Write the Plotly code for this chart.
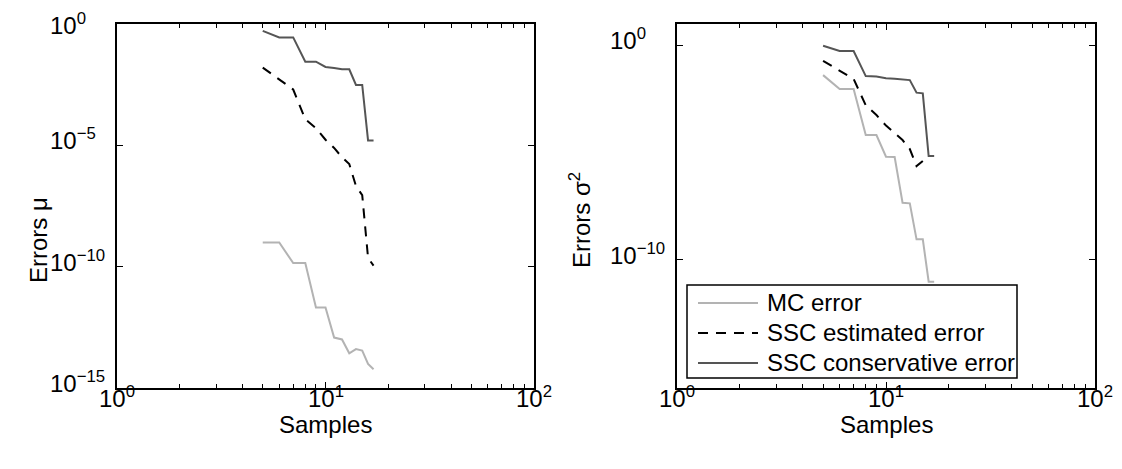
import math
import plotly.graph_objects as go
from plotly.subplots import make_subplots

samples = [5, 6, 7, 8, 9, 10, 11, 12, 13, 14, 15, 16, 17]

# Left panel: errors in mu
mu_mc = [1.0e-9, 1.0e-9, 1.4e-10, 1.4e-10, 2.1e-12, 2.1e-12, 1.2e-13, 1.0e-13,
         2.7e-14, 4.0e-14, 3.5e-14, 9.8e-15, 5.9e-15]
mu_est = [1.6e-2, 5.1e-3, 2.0e-3, 1.2e-4, 5.1e-5, 1.7e-5, 7.8e-6, 3.2e-6,
          1.7e-6, 2.1e-7, 8.9e-8, 2.3e-10, 1.1e-10]
mu_cons = [0.52, 0.28, 0.28, 0.028, 0.028, 0.017, 0.0155, 0.0136, 0.0136,
           0.0031, 0.0031, 1.6e-5, 1.6e-5]

# Right panel: errors in sigma^2
var_mc = [0.041, 9.2e-3, 9.2e-3, 6.5e-5, 6.5e-5, 6.3e-6, 6.1e-6, 4.5e-8,
          4.2e-8, 8.8e-10, 8.8e-10, 9.2e-12, 9.2e-12]
var_est = [0.19, 0.066, 0.027, 1.6e-3, 5.6e-4, 1.8e-4, 8.1e-5, 3.8e-5,
           1.45e-5, 2.3e-6, 4.0e-6, None, None]
var_cons = [0.97, 0.55, 0.55, 0.037, 0.035, 0.029, 0.0275, 0.026, 0.024,
            6.2e-3, 5.8e-3, 6.8e-6, 6.8e-6]

series_names = ["MC error", "SSC estimated error", "SSC conservative error"]
x_tickvals = [1, 10, 100]
x_ticktext = ["10<sup>0</sup>", "10<sup>1</sup>", "10<sup>2</sup>"]
x_minor = [2, 3, 4, 5, 6, 7, 8, 9, 20, 30, 40, 50, 60, 70, 80, 90]
left_ytickvals = [1, 1e-5, 1e-10, 1e-15]
left_yticktext = ["10<sup>0</sup>", "10<sup>−5</sup>", "10<sup>−10</sup>", "10<sup>−15</sup>"]
right_ytickvals = [1, 1e-10]
right_yticktext = ["10<sup>0</sup>", "10<sup>−10</sup>"]
x_title = "Samples"
left_ytitle = "Errors μ"
right_ytitle = "Errors σ<sup>2</sup>"

FONT = "Liberation Sans, Arial, Helvetica, sans-serif"
C_MC = "#b3b3b3"
C_EST = "#000000"
C_CONS = "#555555"
DASH = "10px,8px"

fig = make_subplots(rows=1, cols=2)

styles = [dict(color=C_MC, width=2),
          dict(color=C_EST, width=2, dash=DASH),
          dict(color=C_CONS, width=2)]

for col, data in ((1, (mu_mc, mu_est, mu_cons)), (2, (var_mc, var_est, var_cons))):
    for name, ys, st in zip(series_names, data, styles):
        fig.add_trace(go.Scatter(x=samples, y=ys, mode="lines", name=name,
                                 line=st, showlegend=False, connectgaps=False),
                      row=1, col=col)

W, H = 1122, 469
OFF = 8  # page body margin


def px_x(v):
    return (v - OFF) / W


def px_y(v):
    return 1 - (v - OFF) / H


xd1 = [px_x(117), px_x(534)]
xd2 = [px_x(677), px_x(1095)]
yd = [px_y(388), px_y(24)]

axis_common = dict(showline=True, linecolor="black", linewidth=1.5, mirror="allticks",
                   ticks="inside", ticklen=6, tickcolor="black", showgrid=False,
                   zeroline=False, automargin=False, showticklabels=False)

for i, xd in ((1, xd1), (2, xd2)):
    fig.update_xaxes(type="log", range=[0, 2], domain=xd, tickmode="array",
                     tickvals=x_tickvals,
                     minor=dict(tickmode="array", tickvals=x_minor, ticks="inside",
                                ticklen=4, tickcolor="black"),
                     row=1, col=i, **axis_common)

fig.update_yaxes(type="log", range=[-15, 0], domain=yd, tickmode="array",
                 tickvals=left_ytickvals, row=1, col=1, **axis_common)
fig.update_yaxes(type="log", range=[-16, 1], domain=yd, tickmode="array",
                 tickvals=right_ytickvals, row=1, col=2, **axis_common)

tfont = dict(family=FONT, size=24, color="black")
annotations = []
# y tick labels: mantissa "10" left-aligned as in the original
for xref, yref, vals, texts in (("x domain", "y", left_ytickvals, left_yticktext),
                                ("x2 domain", "y2", right_ytickvals, right_yticktext)):
    for v, t in zip(vals, texts):
        ys = 6
        if yref == "y" and v == 1:
            ys = 0
        annotations.append(dict(x=0, y=math.log10(v), xref=xref, yref=yref, text=t,
                                showarrow=False, xanchor="left", yanchor="middle",
                                xshift=-68, yshift=ys, borderpad=0, font=tfont))
# x tick labels and x titles
for xref, dref in (("x", "x domain"), ("x2", "x2 domain")):
    for v, t in zip(x_tickvals, x_ticktext):
        annotations.append(dict(x=math.log10(v), y=px_y(397), xref=xref, yref="paper",
                                text=t, showarrow=False, xanchor="center",
                                yanchor="middle", borderpad=0, font=tfont))
    annotations.append(dict(x=0.5, y=px_y(424), xref=dref, yref="paper", text=x_title,
                            showarrow=False, xanchor="center", yanchor="middle",
                            borderpad=0, font=tfont))
# y axis titles
annotations.append(dict(x=px_x(38), y=px_y(240), xref="paper", yref="paper",
                        text=left_ytitle, textangle=-90, showarrow=False,
                        xanchor="center", yanchor="middle", font=tfont))
annotations.append(dict(x=px_x(580), y=px_y(220), xref="paper", yref="paper",
                        text=right_ytitle, textangle=-90, showarrow=False,
                        xanchor="center", yanchor="middle", font=tfont))

# legend (drawn as in the original: box, line samples, labels)
shapes = [dict(type="rect", xref="paper", yref="paper",
               x0=px_x(687), x1=px_x(1017), y0=px_y(378), y1=px_y(285),
               line=dict(color="black", width=1.5), fillcolor="white", layer="above")]
leg_rows = [303, 333, 363]
for row_y, name, st in zip(leg_rows, series_names, styles):
    shapes.append(dict(type="line", xref="paper", yref="paper",
                       x0=px_x(698), x1=px_x(758), y0=px_y(row_y), y1=px_y(row_y),
                       line=st, layer="above"))
    annotations.append(dict(x=px_x(765), y=px_y(row_y), xref="paper", yref="paper",
                            text=name, showarrow=False, xanchor="left",
                            yanchor="middle", yshift=1, font=tfont))

fig.update_layout(
    width=W, height=H,
    margin=dict(l=0, r=0, t=0, b=0),
    paper_bgcolor="white", plot_bgcolor="white",
    font=dict(family=FONT, size=24, color="black"),
    annotations=annotations,
    shapes=shapes,
    showlegend=False,
)

fig.write_html("out.html")
